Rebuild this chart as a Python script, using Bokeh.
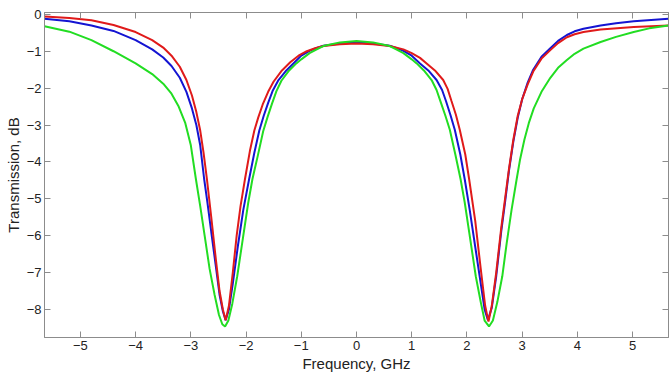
from bokeh.plotting import figure
from bokeh.models import LinearAxis, Range1d, FixedTicker
from bokeh.embed import file_html
from bokeh.resources import INLINE

# ---- data (frequency in GHz, transmission in dB) ----
red_x = [-5.65, -5.2, -4.8, -4.4, -4.0, -3.7, -3.5, -3.35, -3.2, -3.08, -2.98, -2.9, -2.83, -2.77,
         -2.71, -2.63, -2.55, -2.48, -2.42, -2.37, -2.31, -2.24, -2.17, -2.1, -2.02, -1.93, -1.85,
         -1.78, -1.7, -1.6, -1.5, -1.35, -1.2, -1.05, -0.9, -0.75, -0.6, -0.3, 0.0,
         0.3, 0.6, 0.85, 1.0, 1.15, 1.27, 1.42, 1.57, 1.65, 1.72, 1.8, 1.87, 1.97, 2.04, 2.15,
         2.25, 2.33, 2.39, 2.45, 2.53, 2.62, 2.69, 2.76, 2.84, 2.92, 3.0, 3.1, 3.2, 3.35, 3.51,
         3.65, 3.81, 3.95, 4.11, 4.42, 5.02, 5.65]
red_y = [-0.06, -0.10, -0.16, -0.29, -0.48, -0.70, -0.90, -1.12, -1.42, -1.78, -2.2, -2.65, -3.15, -3.75,
         -4.45, -5.5, -6.6, -7.5, -8.0, -8.29, -7.9, -7.0, -6.0, -5.2, -4.47, -3.7, -3.15,
         -2.8, -2.45, -2.1, -1.82, -1.52, -1.30, -1.12, -1.0, -0.92, -0.86, -0.81, -0.79,
         -0.81, -0.86, -0.95, -1.05, -1.18, -1.33, -1.52, -1.78, -2.02, -2.35, -2.72, -3.13, -3.8, -4.47, -5.6,
         -6.9, -7.9, -8.33, -7.9, -7.0, -5.8, -5.0, -4.2, -3.4, -2.75, -2.3, -1.9, -1.55, -1.2, -0.97,
         -0.78, -0.62, -0.54, -0.48, -0.41, -0.34, -0.30]

blue_x = [-5.65, -5.2, -4.8, -4.4, -4.0, -3.7, -3.5, -3.35, -3.2, -3.08, -2.98, -2.9, -2.83, -2.76,
          -2.7, -2.63, -2.55, -2.48, -2.42, -2.37, -2.31, -2.24, -2.15, -2.05, -1.945, -1.85, -1.76,
          -1.68, -1.6, -1.52, -1.42, -1.27, -1.12, -1.0, -0.85, -0.72, -0.6, -0.3, 0.0,
          0.3, 0.6, 0.72, 0.85, 1.0, 1.15, 1.3, 1.45, 1.55, 1.62, 1.7, 1.78, 1.88, 1.96, 2.05,
          2.15, 2.25, 2.32, 2.38, 2.45, 2.53, 2.62, 2.69, 2.76, 2.84, 2.92, 3.0, 3.1, 3.2, 3.35,
          3.51, 3.65, 3.81, 3.95, 4.11, 4.42, 4.7, 5.02, 5.65]
blue_y = [-0.12, -0.19, -0.30, -0.45, -0.70, -0.95, -1.17, -1.40, -1.72, -2.1, -2.55, -3.0, -3.55, -4.45,
          -5.1, -5.9, -6.8, -7.6, -8.05, -8.29, -8.0, -7.3, -6.3, -5.3, -4.47, -3.75, -3.15,
          -2.75, -2.4, -2.08, -1.8, -1.52, -1.30, -1.12, -0.99, -0.91, -0.85, -0.79, -0.76,
          -0.79, -0.85, -0.91, -0.99, -1.12, -1.33, -1.52, -1.78, -2.05, -2.35, -2.72, -3.13, -3.8, -4.47, -5.3,
          -6.3, -7.3, -8.0, -8.29, -7.95, -7.1, -5.9, -5.1, -4.25, -3.45, -2.8, -2.3, -1.85, -1.5, -1.15,
          -0.92, -0.72, -0.56, -0.46, -0.39, -0.30, -0.24, -0.19, -0.12]

green_x = [-5.65, -5.2, -4.8, -4.4, -4.0, -3.7, -3.5, -3.35, -3.22, -3.1, -3.0, -2.91, -2.83, -2.75,
           -2.66, -2.57, -2.49, -2.43, -2.38, -2.32, -2.25, -2.16, -2.05, -1.96, -1.885, -1.79, -1.69,
           -1.61, -1.53, -1.45, -1.36, -1.22, -1.09, -1.0, -0.85, -0.72, -0.6, -0.3, 0.0,
           0.3, 0.6, 0.72, 0.85, 1.0, 1.09, 1.22, 1.36, 1.45, 1.53, 1.61, 1.69, 1.79, 1.885, 1.96,
           2.05, 2.16, 2.25, 2.32, 2.4, 2.47, 2.55, 2.64, 2.72, 2.81, 2.9, 2.96, 3.04, 3.12, 3.21,
           3.35, 3.51, 3.65, 3.81, 3.95, 4.11, 4.42, 4.7, 5.02, 5.3, 5.65]
green_y = [-0.32, -0.47, -0.70, -1.0, -1.33, -1.62, -1.88, -2.15, -2.5, -2.95, -3.55, -4.45, -5.2, -6.0,
           -6.9, -7.6, -8.15, -8.4, -8.46, -8.3, -7.85, -7.1, -6.0, -5.1, -4.47, -3.85, -3.17,
           -2.78, -2.42, -2.08, -1.8, -1.52, -1.33, -1.22, -1.05, -0.95, -0.86, -0.76, -0.72,
           -0.76, -0.86, -0.95, -1.05, -1.22, -1.33, -1.52, -1.78, -2.05, -2.4, -2.75, -3.13, -3.8, -4.47, -5.1,
           -6.0, -7.1, -7.8, -8.3, -8.46, -8.3, -7.8, -7.1, -6.2, -5.28, -4.47, -3.95, -3.4, -2.95, -2.55,
           -2.1, -1.72, -1.45, -1.24, -1.07, -0.93, -0.75, -0.61, -0.48, -0.38, -0.30]

x_ticks = [-5, -4, -3, -2, -1, 0, 1, 2, 3, 4, 5]
y_ticks = [-8, -7, -6, -5, -4, -3, -2, -1, 0]

FONT = "Liberation Sans"
AX = "#8c8c8c"

p = figure(width=671, height=374, output_backend="svg", toolbar_location=None,
           x_range=Range1d(-5.65, 5.65), y_range=Range1d(-8.76, 0.05),
           min_border_left=44, min_border_right=3, min_border_top=12, min_border_bottom=30)

p.line(blue_x, blue_y, line_color="#1414d2", line_width=2)
p.line(red_x, red_y, line_color="#e01a1a", line_width=2)
p.line(green_x, green_y, line_color="#22dd22", line_width=2)

p.xgrid.visible = False
p.ygrid.visible = False
p.outline_line_color = AX
p.background_fill_color = "white"
p.border_fill_color = "white"

def style(ax, ticks, labels=True):
    ax.ticker = FixedTicker(ticks=ticks)
    ax.axis_line_color = AX
    ax.major_tick_line_color = AX
    ax.major_tick_in = 6
    ax.major_tick_out = 0
    ax.minor_tick_line_color = None
    ax.major_label_text_font = FONT
    ax.major_label_text_font_size = "13px"
    ax.major_label_text_color = "#222222"
    ax.major_label_standoff = 3
    ax.axis_label_text_font = FONT
    ax.axis_label_text_font_size = "15px"
    ax.axis_label_text_font_style = "normal"
    ax.axis_label_text_color = "#222222"
    ax.axis_label_standoff = 2
    if not labels:
        ax.major_label_text_color = None
        ax.major_label_standoff = 0

style(p.xaxis[0], x_ticks)
style(p.yaxis[0], y_ticks)
p.xaxis[0].axis_label = "Frequency, GHz"
p.yaxis[0].axis_label = "Transmission, dB"

top = LinearAxis()
style(top, x_ticks, labels=False)
p.add_layout(top, "above")
right = LinearAxis()
style(right, y_ticks, labels=False)
p.add_layout(right, "right")

open("out.html", "w").write(file_html(p, INLINE))
